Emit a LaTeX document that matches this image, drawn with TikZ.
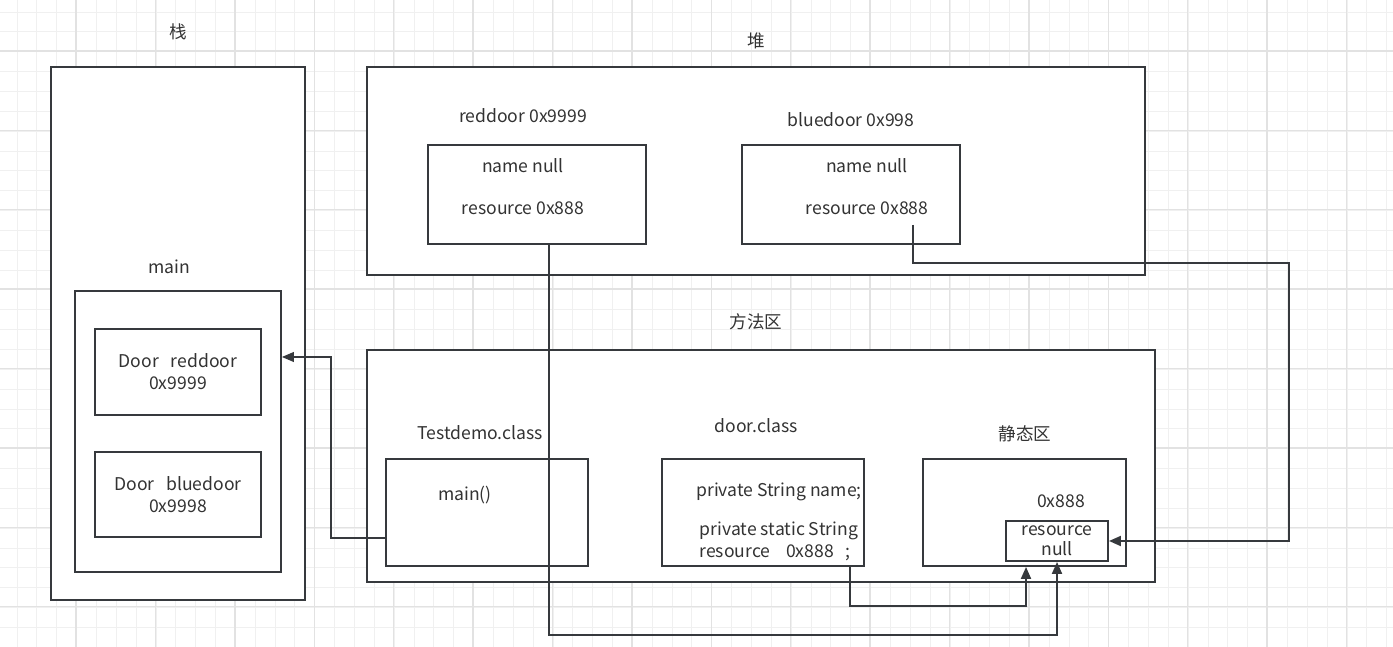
\documentclass[tikz,border=0pt]{standalone}
\usepackage{fontspec}
\setmainfont{Noto Sans CJK SC}
\usepackage{xcolor}
\usepackage{tikz}
\usetikzlibrary{positioning,arrows.meta}
\definecolor{linegray}{HTML}{36393D}
\definecolor{textgray}{HTML}{333333}
\definecolor{gridminor}{HTML}{F0F0F0}
\definecolor{gridmajor}{HTML}{E2E2E2}

\begin{document}
\begin{tikzpicture}[
box/.style={draw=linegray,fill=white,line width=1.1pt,rectangle,inner sep=0pt},
txt/.style={text=textgray,font=\fontsize{10}{12.5}\selectfont,align=center,inner sep=1pt},
conn/.style={draw=linegray,line width=1.1pt,-{Triangle[length=0.24cm,width=0.2cm]}}]
\useasboundingbox (0,0) rectangle (27.86,12.94);
% background grid
\foreach \k [evaluate=\k as \gx using 0.34+0.397*\k] in {0,...,69}
  \draw[gridminor,line width=0.5pt] (\gx,0) -- (\gx,12.94);
\foreach \k [evaluate=\k as \gy using 12.70-0.397*\k] in {0,...,31}
  \draw[gridminor,line width=0.5pt] (0,\gy) -- (27.86,\gy);
\foreach \k [evaluate=\k as \gx using 1.52+1.588*\k] in {0,...,16}
  \draw[gridmajor,line width=0.8pt] (\gx,0) -- (\gx,12.94);
\foreach \k [evaluate=\k as \gy using 11.92-1.588*\k] in {0,...,7}
  \draw[gridmajor,line width=0.8pt] (0,\gy) -- (27.86,\gy);

% stack
\node (stack) [box,minimum width=5.08cm,minimum height=10.66cm] at (3.56,6.27) {};
\node (stacklbl) [txt] at (3.56,12.30) {栈};
\node (mainlbl) [txt] at (3.38,7.60) {main};
\node (mainfr) [box,minimum width=4.12cm,minimum height=5.62cm] at (3.56,4.31) {};
\node (redvar) [box,txt,minimum width=3.32cm,minimum height=1.72cm] at (3.56,5.50) {Door\ \ \ reddoor\\0x9999};
\node (bluevar) [box,txt,minimum width=3.32cm,minimum height=1.70cm] at (3.56,3.05) {Door\ \ \ bluedoor\\0x9998};

% heap
\node (heap) [box,minimum width=15.56cm,minimum height=4.16cm] at (15.12,9.52) {};
\node (heaplbl) [txt] at (15.12,12.12) {堆};
\node (redlbl) [txt] at (10.46,10.62) {reddoor 0x9999};
\node (redobj) [box,minimum width=4.36cm,minimum height=1.98cm] at (10.74,9.05) {};
\node (rednm) [txt] at (10.46,9.62) {name null};
\node (redres) [txt] at (10.46,8.78) {resource 0x888};
\node (bluelbl) [txt] at (17.02,10.54) {bluedoor 0x998};
\node (blueobj) [box,minimum width=4.36cm,minimum height=1.98cm] at (17.02,9.05) {};
\node (bluenm) [txt] at (17.34,9.62) {name null};
\node (blueres) [txt] at (17.34,8.78) {resource 0x888};

% method area
\node (method) [box,minimum width=15.76cm,minimum height=4.64cm] at (15.22,3.62) {};
\node (methodlbl) [txt] at (15.12,6.50) {方法区};
\node (tdemolbl) [txt] at (9.60,4.28) {Testdemo.class};
\node (tdemo) [box,minimum width=4.04cm,minimum height=2.14cm] at (9.74,2.69) {};
\node (mainfn) [txt] at (9.30,3.04) {main()};
\node (doorlbl) [txt] at (15.12,4.42) {door.class};
\node (door) [box,minimum width=4.04cm,minimum height=2.14cm] at (15.26,2.69) {};
\node (doorname) [txt] at (15.58,3.10) {private String name;};
\node (doorres) [txt] at (15.50,2.12) {\ \ private static String\\resource\ \ \ \ 0x888\ \ \ ;};
\node (staticlbl) [txt] at (20.50,4.26) {静态区};
\node (static) [box,minimum width=4.06cm,minimum height=2.14cm] at (20.49,2.69) {};
\node (addr) [txt] at (21.22,2.92) {0x888};
\node (resnull) [box,txt,minimum width=2.04cm,minimum height=0.80cm,inner sep=0pt] at (21.14,2.12) {resource\\[-1pt]null};

% references
\coordinate (bluestart) at (18.26,8.44);
\draw[conn,line width=0.6pt] ([yshift=-0.51cm]tdemo.west) -| (6.62,5.80) -- (mainfr.east |- 0,5.80);
\draw[conn] ([xshift=0.24cm]redobj.south) -- (10.98,0.24) -| (resnull.south);
\draw[conn] (bluestart) -- (18.26,7.68) -| (25.78,2.12) -- (resnull.east);
\draw[conn] ([xshift=1.74cm]door.south) -- ++(0,-0.78) -| ([xshift=0.03cm]static.south);
\end{tikzpicture}
\end{document}
